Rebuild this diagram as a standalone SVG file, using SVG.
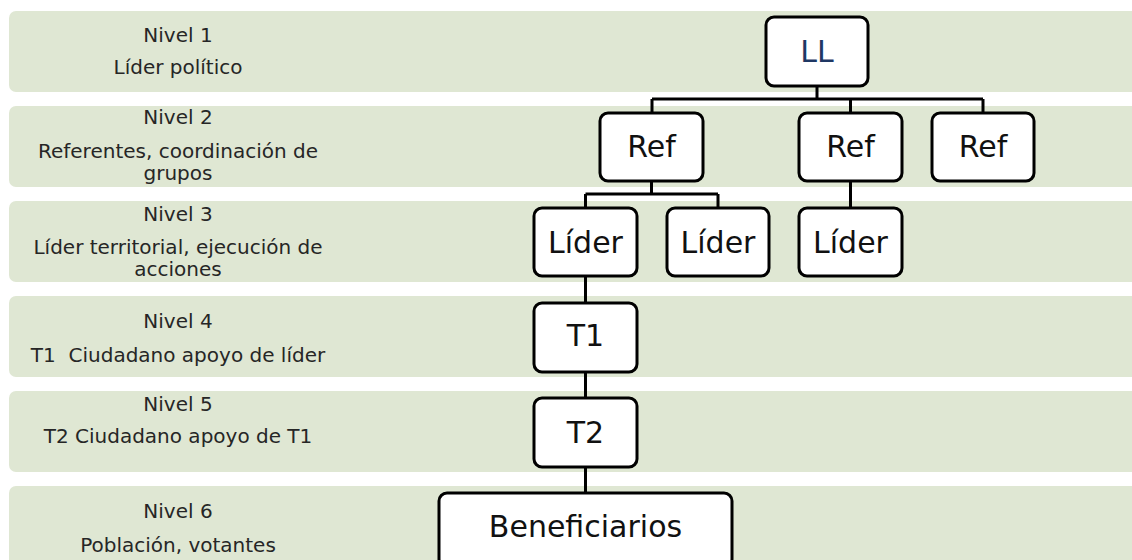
<svg xmlns="http://www.w3.org/2000/svg" width="1132" height="560" viewBox="0 0 1132 560">
<style>
.band{fill:#dfe7d3}
.lbl{font-family:"DejaVu Sans","Liberation Sans",sans-serif;font-size:20px;fill:#262626;text-anchor:middle}
.box{fill:#ffffff;stroke:#000000;stroke-width:3}
.nt{font-family:"DejaVu Sans","Liberation Sans",sans-serif;font-size:30px;fill:#111111;text-anchor:middle}
.con{fill:none;stroke:#000000;stroke-width:3}
</style>
<g id="bands">
<rect class="band" x="9" y="11" width="1140" height="81" rx="7"/>
<rect class="band" x="9" y="106" width="1140" height="81" rx="7"/>
<rect class="band" x="9" y="201" width="1140" height="81" rx="7"/>
<rect class="band" x="9" y="296" width="1140" height="81" rx="7"/>
<rect class="band" x="9" y="391" width="1140" height="81" rx="7"/>
<rect class="band" x="9" y="486" width="1140" height="90" rx="7"/>
</g>
<g id="labels">
<text class="lbl" x="178" y="42">Nivel 1</text>
<text class="lbl" x="178" y="74">Líder político</text>
<text class="lbl" x="178" y="124">Nivel 2</text>
<text class="lbl" x="178" y="158">Referentes, coordinación de</text>
<text class="lbl" x="178" y="180">grupos</text>
<text class="lbl" x="178" y="221">Nivel 3</text>
<text class="lbl" x="178" y="254">Líder territorial, ejecución de</text>
<text class="lbl" x="178" y="276">acciones</text>
<text class="lbl" x="178" y="328">Nivel 4</text>
<text class="lbl" x="178" y="362" xml:space="preserve">T1  Ciudadano apoyo de líder</text>
<text class="lbl" x="178" y="411">Nivel 5</text>
<text class="lbl" x="178" y="443">T2 Ciudadano apoyo de T1</text>
<text class="lbl" x="178" y="518">Nivel 6</text>
<text class="lbl" x="178" y="552">Población, votantes</text>
</g>
<g id="connectors">
<path class="con" d="M817,86 V99 M652,99 H983 M652,99 V113 M850.5,99 V113 M983,99 V113"/>
<path class="con" d="M651.5,181 V194 M585.5,194 H718 M585.5,194 V208 M718,194 V208"/>
<path class="con" d="M850.5,181 V208"/>
<path class="con" d="M585.5,276 V303 M585.5,372 V398 M585.5,467 V493"/>
</g>
<g id="node-ll">
<rect class="box" x="766" y="17" width="102" height="69" rx="8"/>
<text class="nt" x="817" y="62" style="fill:#1f3864">LL</text>
</g>
<g id="node-ref1">
<rect class="box" x="600" y="113" width="103" height="68" rx="8"/>
<text class="nt" x="651.5" y="157">Ref</text>
</g>
<g id="node-ref2">
<rect class="box" x="799" y="113" width="103" height="68" rx="8"/>
<text class="nt" x="850.5" y="157">Ref</text>
</g>
<g id="node-ref3">
<rect class="box" x="932" y="113" width="102" height="68" rx="8"/>
<text class="nt" x="983" y="157">Ref</text>
</g>
<g id="node-lider1">
<rect class="box" x="534" y="208" width="103" height="68" rx="8"/>
<text class="nt" x="585.5" y="253">Líder</text>
</g>
<g id="node-lider2">
<rect class="box" x="667" y="208" width="102" height="68" rx="8"/>
<text class="nt" x="718" y="253">Líder</text>
</g>
<g id="node-lider3">
<rect class="box" x="799" y="208" width="103" height="68" rx="8"/>
<text class="nt" x="850.5" y="253">Líder</text>
</g>
<g id="node-t1">
<rect class="box" x="534" y="303" width="103" height="69" rx="8"/>
<text class="nt" x="585.5" y="346">T1</text>
</g>
<g id="node-t2">
<rect class="box" x="534" y="398" width="103" height="69" rx="8"/>
<text class="nt" x="585.5" y="443">T2</text>
</g>
<g id="node-beneficiarios">
<rect class="box" x="439" y="493" width="293" height="74" rx="8"/>
<text class="nt" x="585.5" y="537">Beneficiarios</text>
</g>
</svg>
